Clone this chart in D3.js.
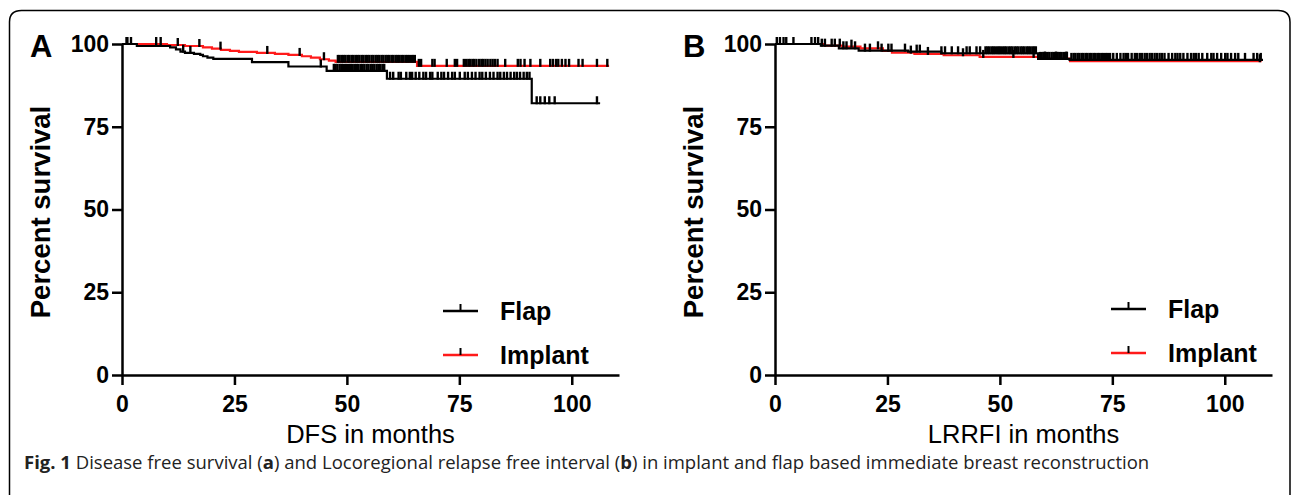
<!DOCTYPE html>
<html>
<head>
<meta charset="utf-8">
<script src="https://cdn.jsdelivr.net/npm/d3@7"></script>
<style>
	body { margin: 0; background: #fff; }
	svg { display: block; }
	.tick text { font-family: "Liberation Sans", Arial, sans-serif; font-weight: bold; font-size: 23px; fill: #000; }
	.domain, .tick line { stroke: #000; stroke-width: 2.5px; }
	.km-line { fill: none; stroke-width: 2.2px; }
	.censor { stroke: #000; stroke-width: 2.4px; }
	.chart-text { font-family: "Liberation Sans", Arial, sans-serif; fill: #000; }
	.caption { font-family: "Open Sans", sans-serif; font-size: 18.5px; fill: #222; }
</style>
</head>
<body>
<svg id="fig" width="1292" height="495"></svg>
<script>

const X_TICKS = [0, 25, 50, 75, 100];
const Y_TICKS = [0, 25, 50, 75, 100];
const SERIES_NAMES = ['Flap', 'Implant'];

// panel A - DFS
const FLAP_A_TIMES = [0, 3.3, 10.7, 12, 13, 14, 16, 17.4, 18, 19, 20.3, 28.9, 37, 45.5, 58.9, 91.1];
const FLAP_A_SURV = [100, 99.4, 99.0, 98.4, 97.7, 97.3, 97.0, 96.7, 96.3, 95.9, 95.5, 94.5, 93.2, 91.9, 89.5, 82.1];
const FLAP_A_END = 106.3;
const FLAP_A_CENSOR = [1.0, 2.0, 13.6, 15.2, 44.2,
	47.1, 47.5, 47.9, 48.4, 48.8, 49.1, 49.6, 50.0, 50.5, 50.9, 51.3, 51.8, 52.2, 52.6, 53.1, 53.5,
	53.9, 54.4, 54.8, 55.3, 55.7, 56.1, 56.6, 57.0, 57.4, 57.9, 58.3,
	59.6, 60.3, 61.5, 62.0, 63.2, 64.0, 64.5, 65.3, 66.1, 67.0, 67.6, 68.5, 69.0, 70.2, 71.0, 71.6,
	72.5, 73.4, 74.0, 75.1, 76.2, 76.9, 77.8, 78.6, 79.5, 80.1, 80.9, 81.8, 82.6, 83.5, 84.1, 84.9,
	85.6, 86.4, 87.2, 87.8, 88.5, 89.3, 90.0, 90.6,
	92.2, 93.0, 94.0, 95.0, 96.2, 105.6];

const IMPLANT_A_TIMES = [0, 10, 14, 18, 20, 22, 24, 26, 30, 34, 37, 40, 42, 44, 46, 47.5, 65.6];
const IMPLANT_A_SURV = [100, 99.7, 99.4, 99.0, 98.6, 98.2, 97.9, 97.6, 97.3, 97.0, 96.7, 96.3, 95.9, 95.4, 95.0, 94.6, 93.4];
const IMPLANT_A_END = 108.3;
const IMPLANT_A_CENSOR = [1.2, 7.6, 8.6, 12.4, 17.2, 21.9, 32.3, 39.5, 44.9,
	48.0, 48.4, 48.9, 49.3, 49.7, 50.2, 50.6, 51.1, 51.5, 52.0, 52.4, 52.8, 53.3, 53.7, 54.2, 54.6,
	55.0, 55.5, 55.9, 56.4, 56.8, 57.2, 57.7, 58.1, 58.6, 59.0, 59.4, 59.9, 60.3, 60.8, 61.2,
	61.6, 62.1, 62.5, 63.0, 63.4, 63.8, 64.3, 64.7, 65.1,
	66.0, 66.5, 69.0, 69.5, 72.2, 74.0, 74.5, 76.0, 76.5, 77.0, 77.4, 77.9, 78.3, 78.8, 79.4,
	79.9, 80.3, 80.8, 81.3, 81.9, 82.4, 82.9, 83.5, 85.2, 88.0, 88.6, 89.5, 90.8, 93.0,
	95.2, 95.8, 96.5, 97.0, 97.8, 98.6, 99.4, 101.5, 102.4, 105.6, 107.9];

// panel B - LRRFI
const FLAP_B_TIMES = [0, 10.2, 14.2, 18.6, 29.6, 37, 58.5, 65.5];
const FLAP_B_SURV = [100, 99.5, 98.7, 98.0, 97.7, 97.2, 95.5, 95.2];
const FLAP_B_END = 108.5;
const FLAP_B_CENSOR = [0.4, 1.1, 1.9, 4.1, 8.1, 8.9, 10.4, 11.1, 13.3, 15.2, 15.9, 17.8, 20.0, 21.1,
	23.7, 25.2, 25.9, 28.9, 31.5, 32.2, 37.0, 37.8, 39.3, 40.7, 42.6, 43.3, 44.8, 45.6,
	46.8, 47.2, 47.6, 48.1, 48.5, 48.9, 49.4, 49.8, 50.2, 50.7, 51.1, 51.5, 52.0, 52.4, 52.8,
	53.3, 53.7, 54.1, 54.6, 55.0, 55.4, 55.9, 56.3, 56.7, 57.2, 57.6, 58.0,
	58.9, 59.3, 59.7, 60.2, 60.6, 61.0, 61.5, 61.9, 62.3, 62.8, 63.2, 63.6, 64.1, 64.5, 64.9,
	65.9, 66.4, 66.8, 67.3, 67.7, 68.2, 68.6, 69.1, 69.5, 70.0, 70.4, 70.9, 71.3, 71.8, 72.2,
	72.7, 73.1, 73.6, 74.0, 74.5, 75.2, 76.0, 76.8, 77.5, 78.0, 78.5, 79.3, 80.0, 80.5, 81.1,
	81.6, 82.2, 82.7, 83.3, 83.8, 84.4, 84.9, 85.5, 86.0, 86.6, 87.5, 88.3, 89.0, 89.5, 90.1,
	90.8, 91.7, 92.5, 93.1, 93.6, 94.2, 95.0, 96.1, 97.0, 97.5, 98.3, 99.2, 100.1, 100.6,
	101.4, 102.3, 103.0, 104.5, 106.4, 107.2, 108.0];

const IMPLANT_B_TIMES = [0, 11, 15, 19, 24, 26, 31, 37.5, 45.5, 58.5, 65.6];
const IMPLANT_B_SURV = [100, 99.5, 99.2, 98.7, 97.9, 97.4, 97.0, 96.6, 96.1, 95.6, 94.8];
const IMPLANT_B_END = 108.2;
const IMPLANT_B_CENSOR = [2.5, 9.6, 12.6, 14.4, 17.0, 22.9, 30.2, 34.0, 41.8, 46.3, 53.0, 57.5,
	60.0, 62.5, 64.8, 107.8];


function whenDocumentLoaded(action) {
	if (document.readyState === "loading") {
		document.addEventListener("DOMContentLoaded", action);
	} else {
		action();
	}
}

/** Kaplan-Meier panel */
class SurvivalPlot {
	constructor(svg, opts) {
		this.svg = svg;
		const g = svg.append('g');

		const x = d3.scaleLinear().domain([0, 110.5]).range([opts.left, opts.left + 497]);
		const y = d3.scaleLinear().domain([0, 100]).range([375, 44]);

		g.append('g')
			.attr('transform', 'translate(0,375)')
			.call(d3.axisBottom(x).tickValues(X_TICKS).tickSize(10).tickSizeOuter(0).tickPadding(11));
		g.append('g')
			.attr('transform', `translate(${opts.left},0)`)
			.call(d3.axisLeft(y).tickValues(Y_TICKS).tickSize(10).tickSizeOuter(0).tickPadding(3));

		const line = d3.line()
			.x(d => x(d[0]))
			.y(d => y(d[1]))
			.curve(d3.curveStepAfter);

		// implant first so flap sits on top of it
		opts.series.slice().reverse().forEach(s => {
			let pts = s.times.map((t, i) => [t, s.surv[i]]);
			pts.push([s.end, s.surv[s.surv.length - 1]]);
			g.append('path')
				.datum(pts)
				.attr('class', 'km-line')
				.attr('stroke', s.color)
				.attr('d', line);
		});

		opts.series.slice().reverse().forEach(s => {
			const at = t => s.surv[d3.bisectRight(s.times, t) - 1];
			g.append('g')
				.selectAll('line')
				.data(s.censor)
				.enter().append('line')
				.attr('class', 'censor')
				.attr('x1', d => x(d)).attr('x2', d => x(d))
				.attr('y1', d => y(at(d)) + 1)
				.attr('y2', d => y(at(d)) - 7);
		});

		// legend
		opts.series.forEach((s, i) => {
			const ly = opts.legendY + i * 44;
			g.append('line')
				.attr('x1', opts.legendX).attr('x2', opts.legendX + 35)
				.attr('y1', ly).attr('y2', ly)
				.attr('stroke', s.color).attr('stroke-width', 2.5);
			g.append('line')
				.attr('stroke', '#000').attr('stroke-width', 2)
				.attr('x1', opts.legendX + 17.5).attr('x2', opts.legendX + 17.5)
				.attr('y1', ly).attr('y2', ly - 7);
			g.append('text')
				.attr('class', 'chart-text')
				.attr('x', opts.legendX + 57)
				.attr('y', ly + 9)
				.attr('font-size', 25).attr('font-weight', 'bold')
				.text(s.name);
		});

		g.append('text')
			.attr('class', 'chart-text')
			.attr('x', opts.left - 92).attr('y', 57)
			.attr('font-size', 31).attr('font-weight', 'bold')
			.text(opts.letter);

		g.append('text')
			.attr('class', 'chart-text')
			.attr('transform', `translate(${opts.left - 72},212) rotate(-90)`)
			.attr('text-anchor', 'middle')
			.attr('font-size', 27.5).attr('font-weight', 'bold')
			.text('Percent survival');

		// title centred on the whole axis line
		g.append('text')
			.attr('class', 'chart-text')
			.attr('x', (x.range()[0] + x.range()[1]) / 2).attr('y', 443)
			.attr('text-anchor', 'middle')
			.attr('font-size', 25.5)
			.text(opts.xTitle);
	}
}

whenDocumentLoaded(() => {
	const svg = d3.select('#fig');

	// figure frame, rounded top corners
	svg.append('path')
		.attr('d', 'M9.5,520 L9.5,22 Q9.5,10.5 21.5,10.5 L1278,10.5 Q1290,10.5 1290,22 L1290,520')
		.attr('fill', 'none').attr('stroke', '#000').attr('stroke-width', 1.5);

	new SurvivalPlot(svg, {
		left: 122, letter: 'A', xTitle: 'DFS in months', legendX: 443, legendY: 311,
		series: [
			{name: SERIES_NAMES[0], color: '#000', times: FLAP_A_TIMES, surv: FLAP_A_SURV, end: FLAP_A_END, censor: FLAP_A_CENSOR},
			{name: SERIES_NAMES[1], color: '#ff1a1a', times: IMPLANT_A_TIMES, surv: IMPLANT_A_SURV, end: IMPLANT_A_END, censor: IMPLANT_A_CENSOR}
		]
	});
	new SurvivalPlot(svg, {
		left: 775, letter: 'B', xTitle: 'LRRFI in months', legendX: 1111, legendY: 309,
		series: [
			{name: SERIES_NAMES[0], color: '#000', times: FLAP_B_TIMES, surv: FLAP_B_SURV, end: FLAP_B_END, censor: FLAP_B_CENSOR},
			{name: SERIES_NAMES[1], color: '#ff1a1a', times: IMPLANT_B_TIMES, surv: IMPLANT_B_SURV, end: IMPLANT_B_END, censor: IMPLANT_B_CENSOR}
		]
	});

	const cap = svg.append('text').attr('class', 'caption').attr('x', 24).attr('y', 469);
	cap.append('tspan').attr('font-weight', 'bold').text('Fig. 1');
	cap.append('tspan').text(' Disease free survival (');
	cap.append('tspan').attr('font-weight', 'bold').text('a');
	cap.append('tspan').text(') and Locoregional relapse free interval (');
	cap.append('tspan').attr('font-weight', 'bold').text('b');
	cap.append('tspan').text(') in implant and flap based immediate breast reconstruction');
});
</script>
</body>
</html>
